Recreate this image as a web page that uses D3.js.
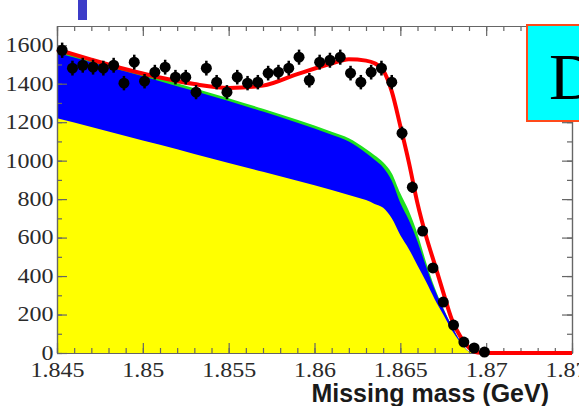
<!DOCTYPE html>
<html>
<head>
<meta charset="utf-8">
<script src="https://cdn.jsdelivr.net/npm/d3@7"></script>
<style>
	body { margin: 0; background: #fff; overflow: hidden; }
	svg { display: block; }
</style>
</head>
<body>
<div id="chart"></div>
<script>
// fit components (GeV, events / bin)
const mass = [1.845, 1.847, 1.849, 1.851, 1.853, 1.855, 1.857, 1.859, 1.861, 1.862, 1.863, 1.8635, 1.864, 1.8645, 1.865, 1.8655, 1.866, 1.8665, 1.867, 1.8675, 1.868, 1.8685, 1.869, 1.8695, 1.87, 1.875]
const yellowBkg = [1220, 1175, 1128, 1082, 1035, 988, 942, 895, 848, 822, 795, 775, 755, 700, 612, 540, 455, 370, 280, 200, 118, 55, 8, 0, 0, 0]
const blueTop = [1560, 1512, 1463, 1413, 1362, 1310, 1255, 1197, 1135, 1100, 1040, 1005, 965, 895, 780, 690, 580, 450, 330, 230, 140, 60, 8, 0, 0, 0]
const greenTop = [1575, 1527, 1478, 1428, 1377, 1325, 1270, 1212, 1150, 1116, 1060, 1028, 992, 935, 830, 738, 620, 472, 340, 234, 140, 60, 8, 0, 0, 0]
const fitCurve = [1578, 1525, 1475, 1432, 1398, 1378, 1390, 1450, 1505, 1527, 1520, 1506, 1470, 1360, 1180, 990, 778, 607, 462, 315, 174, 85, 27, 2, 0, 0]

// data points
const binCentres = [1.8453, 1.8459, 1.8465, 1.8471, 1.8477, 1.8483, 1.8489, 1.8495, 1.8501, 1.8507, 1.8513, 1.8519, 1.8525, 1.8531, 1.8537, 1.8543, 1.8549, 1.8555, 1.8561, 1.8567, 1.8573, 1.8579, 1.8585, 1.8591, 1.8597, 1.8603, 1.8609, 1.8615, 1.8621, 1.8627, 1.8633, 1.8639, 1.8645, 1.8651, 1.8657, 1.8663, 1.8669, 1.8675, 1.8681, 1.8687, 1.8693, 1.8699]
const counts = [1574, 1481, 1496, 1486, 1481, 1496, 1403, 1512, 1413, 1460, 1486, 1434, 1434, 1356, 1481, 1408, 1356, 1434, 1403, 1408, 1455, 1460, 1481, 1538, 1418, 1512, 1522, 1538, 1455, 1408, 1460, 1481, 1408, 1143, 862, 634, 442, 265, 145, 57, 26, 5]

const xTicks = [1.845, 1.85, 1.855, 1.86, 1.865, 1.87, 1.875]
const xTickLabels = ['1.845', '1.85', '1.855', '1.86', '1.865', '1.87', '1.875']
const xMinorTicks = d3.range(1.845, 1.8751, 0.001)
const yTicks = [0, 200, 400, 600, 800, 1000, 1200, 1400, 1600]
const yTickLabels = ['0', '200', '400', '600', '800', '1000', '1200', '1400', '1600']
const yMinorTicks = d3.range(0, 1700, 100)

const massPlot = {
	margin: { top: 26, right: 7, bottom: 53, left: 57 },

	draw(element) {
		const svg = d3
			.select(`#${element}`)
			.append('svg')
			.attr('width', this.width())
			.attr('height', this.height())

		const x = d3
			.scaleLinear()
			.domain([1.845, 1.875])
			.range([this.margin.left, this.width() - this.margin.right])

		const y = d3
			.scaleLinear()
			.domain([0, 1700])
			.range([this.height() - this.margin.bottom, this.margin.top])

		svg
			.append('clipPath')
			.attr('id', 'frame')
			.append('rect')
			.attr('x', x(1.845))
			.attr('y', y(1700))
			.attr('width', x(1.875) - x(1.845))
			.attr('height', y(0) - y(1700))

		const area = values =>
			d3
				.area()
				.curve(d3.curveMonotoneX)
				.x((d, i) => x(mass[i]))
				.y0(y(0))
				.y1((d, i) => y(values[i]))(mass)

		const layers = svg.append('g').attr('clip-path', 'url(#frame)')

		layers.append('path').attr('d', area(greenTop)).style('fill', '#1fe01f')
		layers.append('path').attr('d', area(blueTop)).style('fill', '#0000ff')
		layers.append('path').attr('d', area(yellowBkg)).style('fill', '#ffff00')

		// axes, ticks pointing inwards like ROOT
		const axis = svg.append('g').classed('axis', true)
		const bottom = y(0)
		const top = y(1700)
		const left = x(1.845)
		const right = x(1.875)

		axis
			.append('g')
			.attr('transform', `translate(0,${bottom})`)
			.call(d3.axisBottom(x).tickValues(xMinorTicks).tickSize(-5).tickSizeOuter(0).tickFormat(''))
		axis
			.append('g')
			.attr('transform', `translate(0,${top})`)
			.call(d3.axisTop(x).tickValues(xMinorTicks).tickSize(-5).tickSizeOuter(0).tickFormat(''))
		axis
			.append('g')
			.attr('transform', `translate(0,${top})`)
			.call(d3.axisTop(x).tickValues(xTicks).tickSize(-10).tickSizeOuter(0).tickFormat(''))
		axis
			.append('g')
			.attr('transform', `translate(${left},0)`)
			.call(d3.axisLeft(y).tickValues(yMinorTicks).tickSize(-5).tickSizeOuter(0).tickFormat(''))
		axis
			.append('g')
			.attr('transform', `translate(${right},0)`)
			.call(d3.axisRight(y).tickValues(yMinorTicks).tickSize(-5).tickSizeOuter(0).tickFormat(''))
		axis
			.append('g')
			.attr('transform', `translate(${right},0)`)
			.call(d3.axisRight(y).tickValues(yTicks).tickSize(-10).tickSizeOuter(0).tickFormat(''))

		axis
			.append('g')
			.classed('xAxis', true)
			.attr('transform', `translate(0,${bottom})`)
			.call(
				d3
					.axisBottom(x)
					.tickValues(xTicks)
					.tickSize(-10)
					.tickSizeOuter(0)
					.tickPadding(10)
					.tickFormat((d, i) => xTickLabels[i])
			)

		axis
			.append('g')
			.classed('yAxis', true)
			.attr('transform', `translate(${left},0)`)
			.call(
				d3
					.axisLeft(y)
					.tickValues(yTicks)
					.tickSize(-10)
					.tickSizeOuter(0)
					.tickPadding(3)
					.tickFormat((d, i) => yTickLabels[i])
			)

		axis.selectAll('path, line').style('stroke', '#666').style('stroke-width', 1.2)

		axis
			.selectAll('.xAxis text, .yAxis text')
			.attr('transform', 'scale(1.2,1)')
			.style('font-family', '"Liberation Serif", serif')
			.style('font-size', '20px')
			.style('fill', '#2a2a2a')

		// fit
		svg
			.append('path')
			.attr(
				'd',
				d3
					.line()
					.curve(d3.curveMonotoneX)
					.x((d, i) => x(mass[i]))
					.y((d, i) => y(fitCurve[i]))(mass)
			)
			.style('fill', 'none')
			.style('stroke', '#ff0000')
			.style('stroke-width', 4)

		// data with statistical error bars
		const points = svg.append('g').classed('points', true)

		points
			.selectAll('line')
			.data(counts)
			.enter()
			.append('line')
			.attr('x1', (d, i) => x(binCentres[i]))
			.attr('x2', (d, i) => x(binCentres[i]))
			.attr('y1', d => y(d + Math.sqrt(d)))
			.attr('y2', d => y(Math.max(0, d - Math.sqrt(d))))
			.style('stroke', '#000')
			.style('stroke-width', 2.5)

		points
			.selectAll('circle')
			.data(counts)
			.enter()
			.append('circle')
			.attr('cx', (d, i) => x(binCentres[i]))
			.attr('cy', d => y(d))
			.attr('r', 5.5)
			.style('fill', '#000')

		svg
			.append('text')
			.attr('x', 549)
			.attr('y', 402)
			.attr('text-anchor', 'end')
			.style('font-family', '"Liberation Sans", Arial, sans-serif')
			.style('font-weight', 'bold')
			.style('font-size', '25px')
			.style('fill', '#1a1a1a')
			.text('Missing mass (GeV)')

		// bits of the slide around the plot
		svg
			.append('rect')
			.attr('x', 78)
			.attr('y', 0)
			.attr('width', 9)
			.attr('height', 20)
			.style('fill', '#3c3cc8')

		svg
			.append('rect')
			.attr('x', 527)
			.attr('y', 25)
			.attr('width', 60)
			.attr('height', 96)
			.style('fill', '#00ffff')
			.style('stroke', '#ff4a1a')
			.style('stroke-width', 2)

		svg
			.append('text')
			.attr('x', 549)
			.attr('y', 99)
			.style('font-family', '"Liberation Serif", serif')
			.style('font-size', '66px')
			.style('fill', '#000')
			.text('D')
	},

	height() {
		return 406
	},

	width() {
		return 579
	}
}

massPlot.draw('chart')
</script>
</body>
</html>
